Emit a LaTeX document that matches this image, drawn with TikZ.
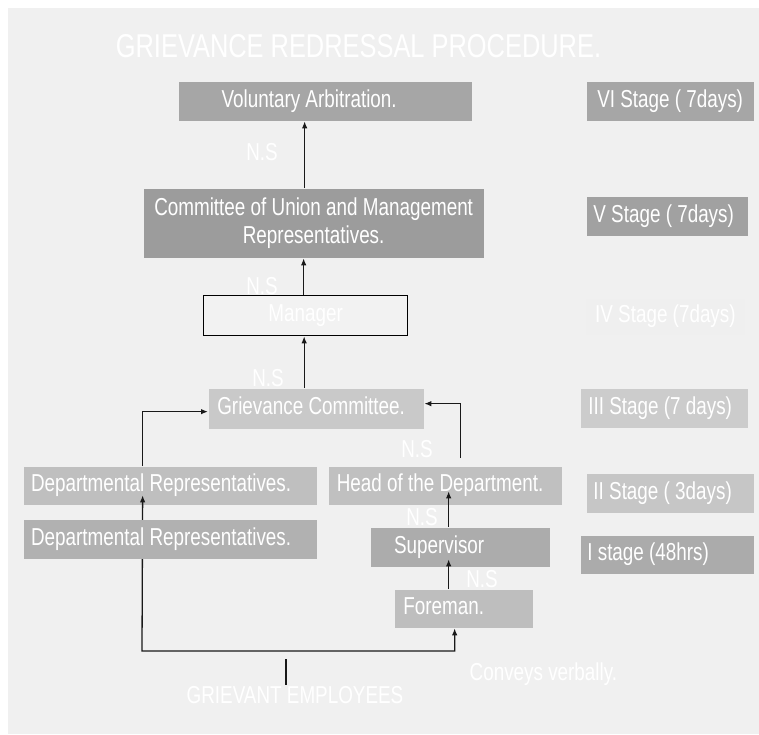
\documentclass[tikz,border=0pt]{standalone}
\usepackage{fontspec}
\setmainfont{Liberation Sans}[FakeStretch=0.77]
\usetikzlibrary{arrows.meta}

\definecolor{pagegray}{HTML}{F0F0F0}
\definecolor{arbgray}{HTML}{A6A6A6}
\definecolor{commgray}{HTML}{9C9C9C}
\definecolor{mgrgray}{HTML}{F2F2F2}
\definecolor{grievgray}{HTML}{C9C9C9}
\definecolor{depgray}{HTML}{BFBFBF}
\definecolor{deplowgray}{HTML}{B1B1B1}
\definecolor{headgray}{HTML}{C0C0C0}
\definecolor{supgray}{HTML}{ACACAC}
\definecolor{foregray}{HTML}{BEBEBE}
\definecolor{sixgray}{HTML}{A6A6A6}
\definecolor{fivegray}{HTML}{A1A1A1}
\definecolor{fourgray}{HTML}{EFEFEF}
\definecolor{threegray}{HTML}{CCCCCC}
\definecolor{twogray}{HTML}{C6C6C6}
\definecolor{onegray}{HTML}{ABABAB}

\begin{document}
\begin{tikzpicture}[
            x = 1pt, y = -1pt, % pixel grid, y downwards
            > = {Latex[length=7pt,width=5.5pt]}, % arrow head style
            line width = 1.3pt,
            panel/.style = {anchor=north west, fill=#1, text=white, inner sep=0pt,
                            minimum height=39pt, font=\fontsize{24.5}{28.5}\selectfont},
            box/.style = {panel=#1, text height=17pt, text depth=5pt},
            nudge/.style = {execute at begin node={\hspace*{-#1}},
                            execute at end node={\hspace*{#1}}},
            ns/.style = {text=white, inner sep=1pt, font=\fontsize{24.5}{28.5}\selectfont},
            link/.style = {->, draw=black!90}
        ]

    \useasboundingbox (0,0) rectangle (759,734);
    \fill[pagegray] (8,8) rectangle (759,734);

    \node[ns, font=\fontsize{33}{39}\selectfont] (title) at (358.5,46) {GRIEVANCE REDRESSAL PROCEDURE.};

    % procedure
    \node[box=arbgray, minimum width=293pt, nudge=16pt] (vol) at (178,81) {Voluntary Arbitration.};
    \node[panel=commgray, minimum width=340pt, minimum height=69pt, align=center] (comm) at (143,188)
        {Committee of Union and Management\\Representatives.};
    \node[box=mgrgray, draw=black, minimum width=204pt, minimum height=40pt] (mgr) at (203,295) {Manager};
    \node[box=grievgray, minimum width=215pt, minimum height=40pt, nudge=5pt] (griev) at (208,388) {Grievance Committee.};
    \node[box=depgray, minimum width=293pt, minimum height=38pt, nudge=9pt] (depu) at (23,466) {Departmental Representatives.};
    \node[box=headgray, minimum width=233pt, minimum height=38pt, nudge=5pt] (head) at (328,466) {Head of the Department.};
    \node[box=supgray, minimum width=179pt, nudge=21pt] (sup) at (370,527) {Supervisor};
    \node[box=foregray, minimum width=138pt, minimum height=38pt, nudge=20pt] (fore) at (394,589) {Foreman.};

    % stages
    \node[box=sixgray, minimum width=167pt] (s6) at (586,81) {VI Stage ( 7days)};
    \node[box=fivegray, minimum width=161pt, nudge=3.5pt] (s5) at (586,196) {V Stage ( 7days)};
    \node[box=fourgray, draw=black!6, line width=0.8pt, minimum width=160pt, minimum height=37pt] (s4) at (585,298) {IV Stage (7days)};
    \node[box=threegray, minimum width=167pt, nudge=4pt] (s3) at (580,388) {III Stage (7 days)};
    \node[box=twogray, minimum width=167pt, nudge=7.5pt] (s2) at (586,473) {II Stage ( 3days)};
    \node[box=onegray, minimum width=173pt, minimum height=38pt, nudge=19pt] (s1) at (580,535) {I stage (48hrs)};

    % not satisfied
    \node[ns] (ns1) at (262,152) {N.S};
    \node[ns] (ns2) at (262,286) {N.S};
    \node[ns] (ns3) at (268,378) {N.S};
    \node[ns] (ns4) at (417,449) {N.S};
    \node[ns] (ns5) at (422,517) {N.S};
    \node[ns] (ns6) at (482,579) {N.S};

    \node[ns] (emp) at (295,695) {GRIEVANT EMPLOYEES};
    \node[ns, anchor=base west] (verbal) at (468,680) {Conveys verbally.};

    % connectors
    \draw[link] ([xshift=-9pt]comm.north) -- ([xshift=-9pt]comm.north |- vol.south);
    \draw[link] ([xshift=-2pt]mgr.north) -- ([xshift=-2pt]mgr.north |- comm.south);
    \draw[link] ([xshift=-12pt]griev.north) -- ([xshift=-12pt]griev.north |- mgr.south);
    \draw[link] ([xshift=-27.5pt]depu.north) |- ([yshift=-3pt]griev.west);
    \draw[link, shorten <=8pt] ([xshift=15.5pt]head.north) |- ([yshift=5pt]griev.east);
    \draw[link] ([xshift=-11.5pt]sup.north) -- ([xshift=-11.5pt, yshift=14pt]sup.north |- head.south);
    \draw[link] ([xshift=-15pt]fore.north) -- ([xshift=-15pt, yshift=8pt]fore.north |- sup.south);

    \coordinate (base) at (142,651);
    \draw[link, <->] ([xshift=-27.5pt, yshift=10pt]depu.south) -- (base) -| ([xshift=-9pt]fore.south);

    \coordinate (emp top) at (286,659);
    \draw[draw=black!90] (emp top) -- (emp top |- emp.north);

    % lower box lies over the rising line
    \node[box=deplowgray, minimum width=293pt, nudge=9pt] (depl) at (23,519) {Departmental Representatives.};

\end{tikzpicture}
\end{document}
